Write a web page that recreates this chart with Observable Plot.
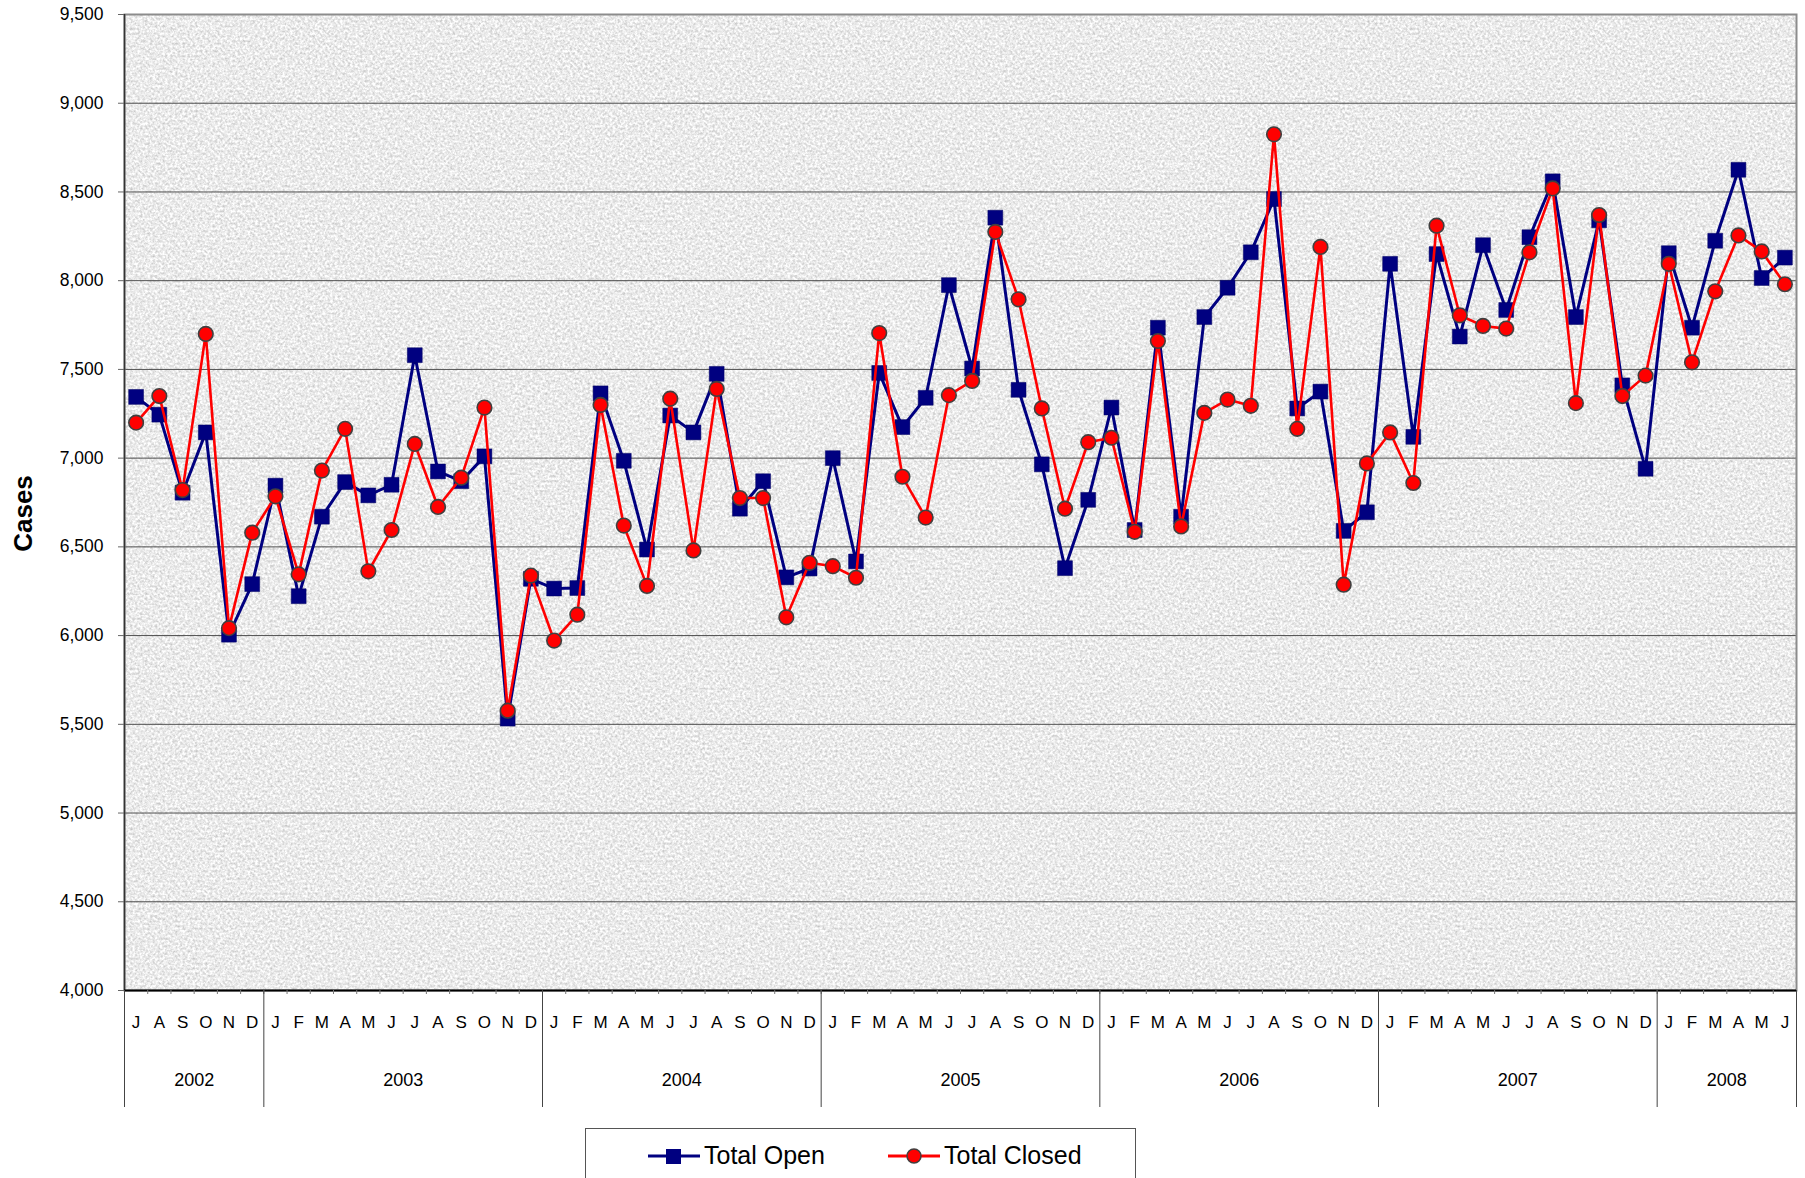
<!DOCTYPE html>
<html>
<head>
<meta charset="utf-8">
<script src="https://cdn.jsdelivr.net/npm/d3@7"></script>
<script src="https://cdn.jsdelivr.net/npm/@observablehq/plot@0.6"></script>
<style>
  html, body { margin: 0; padding: 0; background: #fff; overflow: hidden; width: 1805px; height: 1178px; }
  #chart { position: absolute; left: 0; top: 0; }
  #legend {
    position: absolute; left: 585px; top: 1128px; width: 549px; height: 70px;
    border: 1px solid #555; background: #fff;
    font-family: "Liberation Sans", Arial, sans-serif; font-size: 25px; color: #000;
  }
  .item { position: absolute; top: 12px; display: flex; align-items: center; }
  .item svg { display: block; margin-right: 4px; }
</style>
</head>
<body>
<div id="chart"></div>
<div id="legend">
  <div class="item" style="left:62px">
    <svg width="52" height="20"><line x1="0" y1="10" x2="52" y2="10" stroke="#000080" stroke-width="3"/><rect x="18" y="3" width="15" height="15" fill="#000080"/></svg>
    <span>Total Open</span>
  </div>
  <div class="item" style="left:302px">
    <svg width="52" height="20"><line x1="0" y1="10" x2="52" y2="10" stroke="#ff0000" stroke-width="3"/><circle cx="26" cy="10" r="7" fill="#ff0000" stroke="#404040" stroke-width="1.5"/></svg>
    <span>Total Closed</span>
  </div>
</div>
<script>
// Month labels, Jul 2002 – Jun 2008
const monthLabels = [
  "J","A","S","O","N","D",
  "J","F","M","A","M","J","J","A","S","O","N","D",
  "J","F","M","A","M","J","J","A","S","O","N","D",
  "J","F","M","A","M","J","J","A","S","O","N","D",
  "J","F","M","A","M","J","J","A","S","O","N","D",
  "J","F","M","A","M","J","J","A","S","O","N","D",
  "J","F","M","A","M","J"
];
const years = ["2002","2003","2004","2005","2006","2007","2008"];
const yearStart = [0, 6, 18, 30, 42, 54, 66];
const yearEnd   = [6, 18, 30, 42, 54, 66, 72];

const totalOpen = [
  7345, 7245, 6805, 7145, 6005, 6290,
  6845, 6222, 6670, 6865, 6790, 6850, 7580, 6925, 6870, 7010, 5532, 6320,
  6265, 6268, 7365, 6985, 6485, 7240, 7145, 7475, 6715, 6870, 6328, 6378,
  7000, 6418, 7480, 7175, 7340, 7975, 7505, 8355, 7385, 6965, 6380, 6765,
  7285, 6595, 7735, 6670, 7795, 7960, 8160, 8460, 7280, 7375, 6590, 6695,
  8095, 7120, 8150, 7685, 8200, 7835, 8245, 8560, 7795, 8340, 7410, 6940,
  8155, 7735, 8225, 8625, 8015, 8130
];
const totalClosed = [
  7200, 7350, 6820, 7700, 6042, 6580,
  6785, 6345, 6930, 7165, 6362, 6595, 7080, 6725, 6890, 7285, 5577, 6338,
  5972, 6118, 7300, 6620, 6280, 7335, 6480, 7390, 6775, 6775, 6103, 6410,
  6391, 6326, 7705, 6895, 6665, 7355, 7435, 8275, 7895, 7280, 6715, 7090,
  7115, 6585, 7660, 6615, 7255, 7330, 7295, 8825, 7165, 8190, 6287, 6970,
  7145, 6860, 8310, 7805, 7745, 7730, 8160, 8520, 7310, 8370, 7350, 7465,
  8095, 7540, 7940, 8255, 8165, 7980
];

const yTicks = [4000,4500,5000,5500,6000,6500,7000,7500,8000,8500,9000,9500];
const yLabel = "Cases";

const data = totalOpen.map((v, i) => ({i, pos: i + 0.5, open: v, closed: totalClosed[i]}));
const monthCenters = monthLabels.map((_, i) => i + 0.5);
const monthBounds = monthLabels.map((_, i) => i).concat([monthLabels.length]);
const yearCenters = years.map((_, k) => (yearStart[k] + yearEnd[k]) / 2);
const yearBounds = [0].concat(yearEnd);

const font = "'Liberation Sans', Arial, Helvetica, sans-serif";

const chart = Plot.plot({
  width: 1805,
  height: 1120,
  marginLeft: 124,
  marginRight: 9,
  marginTop: 14,
  marginBottom: 130,
  style: {fontFamily: font, color: "#000", background: "transparent"},
  x: {domain: [0, monthLabels.length], axis: null},
  y: {domain: [4000, 9500], axis: null},
  marks: [
    Plot.frame({fill: "#eaeaea", stroke: null, className: "bgframe"}),
    Plot.gridY(yTicks, {stroke: "#4d4d4d", strokeOpacity: 1, strokeWidth: 1}),
    Plot.frame({stroke: "#8c8c8c", strokeWidth: 2, fill: null}),
    Plot.ruleX([0], {stroke: "#333", strokeWidth: 1.5}),
    Plot.ruleY([4000], {stroke: "#000", strokeWidth: 2}),
    // y axis
    Plot.axisY({ticks: yTicks, tickFormat: d3.format(","), tickSize: 6, tickPadding: 15,
                fontSize: 17.5, label: null, stroke: "#666"}),
    Plot.text([yLabel], {text: d => d, frameAnchor: "left", rotate: -90, dx: -101, dy: 11,
                fontSize: 26, fontWeight: "bold", fill: "#000", textAnchor: "middle", lineAnchor: "middle"}),
    // month boundary ticks
    Plot.axisX({ticks: monthBounds, tickSize: 4, tickFormat: () => "", label: null, stroke: "#777"}),
    // year separators
    Plot.axisX({ticks: yearBounds, tickSize: 117, tickFormat: () => "", label: null, stroke: "#444"}),
    // month letters
    Plot.axisX({ticks: monthCenters, tickSize: 0, tickPadding: 25, fontSize: 17, label: null,
                tickFormat: d => monthLabels[Math.floor(d)]}),
    // year labels
    Plot.axisX({ticks: yearCenters, tickSize: 0, tickPadding: 83, fontSize: 18, label: null,
                tickFormat: d => years[yearCenters.indexOf(d)]}),
    // series
    Plot.line(data, {x: "pos", y: "open", stroke: "#000080", strokeWidth: 3}),
    Plot.dot(data, {x: "pos", y: "open", symbol: "square", r: 8.4, fill: "#000080", stroke: "#000060", strokeWidth: 0.5}),
    Plot.line(data, {x: "pos", y: "closed", stroke: "#ff0000", strokeWidth: 2.6}),
    Plot.dot(data, {x: "pos", y: "closed", symbol: "circle", r: 7.3, fill: "#ff0000", stroke: "#404040", strokeWidth: 1.6})
  ]
});

// grainy background texture for the plot area
const ns = "http://www.w3.org/2000/svg";
const defs = document.createElementNS(ns, "defs");
defs.innerHTML = `
  <filter id="grain" x="0" y="0" width="1" height="1" color-interpolation-filters="sRGB">
    <feTurbulence type="fractalNoise" baseFrequency="0.4" numOctaves="3" seed="7" result="n"/>
    <feColorMatrix in="n" type="matrix"
      values="0.38 0 0 0 0.73
              0.38 0 0 0 0.73
              0.38 0 0 0 0.73
              0 0 0 0 1"/>
  </filter>`;
chart.insertBefore(defs, chart.firstChild);
const bg = chart.querySelector(".bgframe rect, rect.bgframe, g.bgframe rect") || chart.querySelector('[aria-label="frame"]');
if (bg) bg.setAttribute("filter", "url(#grain)");

document.getElementById("chart").appendChild(chart);
</script>
</body>
</html>
